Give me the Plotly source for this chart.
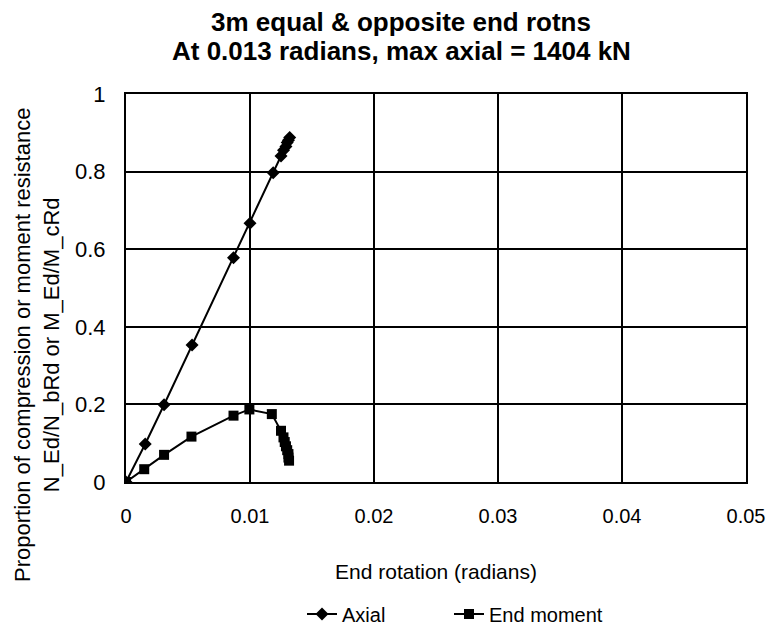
import plotly.graph_objects as go

axial_x = [0, 0.00155, 0.00307, 0.00533, 0.00867, 0.0100, 0.01187, 0.0125, 0.0127, 0.0129, 0.0130, 0.0131, 0.0132]
axial_y = [0, 0.098, 0.199, 0.353, 0.578, 0.667, 0.797, 0.840, 0.855, 0.865, 0.875, 0.881, 0.888]

moment_x = [0, 0.00147, 0.00307, 0.00528, 0.00867, 0.00995, 0.01176, 0.0125, 0.0127, 0.0128, 0.0129, 0.0130, 0.0131, 0.0131, 0.01315]
moment_y = [0, 0.033, 0.070, 0.117, 0.171, 0.187, 0.175, 0.132, 0.115, 0.103, 0.092, 0.082, 0.072, 0.063, 0.055]

x_ticks = [0, 0.01, 0.02, 0.03, 0.04, 0.05]
x_labels = ["0", "0.01", "0.02", "0.03", "0.04", "0.05"]
y_ticks = [0, 0.2, 0.4, 0.6, 0.8, 1]
y_labels = ["0", "0.2", "0.4", "0.6", "0.8", "1"]

title_lines = ["3m equal & opposite end rotns", "At 0.013 radians, max axial = 1404 kN"]
y_title = "Proportion of compression or moment resistance<br>N_Ed/N_bRd or M_Ed/M_cRd"
x_title = "End rotation (radians)"

font = "Liberation Sans, Arial, sans-serif"

# the page body adds an 8px margin; work in page pixels and convert
OFF = 8
W, H = 774 - OFF, 633 - 2 * OFF
L, R, T, B = 126 - OFF, 746 - OFF, 94 - OFF, 482 - OFF


def px_x(p):
    return (p - OFF - L) / (R - L)


def px_y(p):
    return (B - (p - OFF)) / (B - T)


fig = go.Figure()
fig.add_trace(go.Scatter(x=axial_x, y=axial_y, name="Axial", mode="lines+markers",
                         line=dict(color="black", width=2),
                         marker=dict(symbol="diamond", size=10, color="black"),
                         legend="legend"))
fig.add_trace(go.Scatter(x=moment_x, y=moment_y, name="End moment", mode="lines+markers",
                         line=dict(color="black", width=2),
                         marker=dict(symbol="square", size=10, color="black"),
                         legend="legend2"))

for line, ypx in zip(title_lines, [22, 51]):
    fig.add_annotation(text="<b>%s</b>" % line, xref="paper", yref="paper",
                       x=px_x(401), y=px_y(ypx),
                       xanchor="center", yanchor="middle", showarrow=False,
                       font=dict(size=26, family=font, color="black"))

fig.add_annotation(text=y_title, xref="paper", yref="paper",
                   x=px_x(37), y=px_y(345), xanchor="center", yanchor="middle",
                   textangle=-90, showarrow=False,
                   font=dict(size=22, family=font, color="black"))

leg_common = dict(orientation="h", xanchor="left", yanchor="middle",
                  font=dict(size=20, family=font), borderwidth=0, bgcolor="rgba(0,0,0,0)")
fig.update_layout(
    width=W, height=H,
    margin=dict(l=L, r=W - R, t=T, b=H - B, autoexpand=False),
    paper_bgcolor="white", plot_bgcolor="white",
    font=dict(family=font, color="black", size=20),
    showlegend=True,
    legend=dict(x=px_x(302), y=px_y(614), **leg_common),
    legend2=dict(x=px_x(449), y=px_y(614), **leg_common),
    xaxis=dict(range=[0, 0.05], tickvals=x_ticks, ticktext=x_labels,
               showgrid=True, gridcolor="black", gridwidth=2,
               showline=True, linecolor="black", linewidth=2, mirror=True,
               zeroline=False, tickfont=dict(size=20), ticklabelstandoff=15,
               ticklabeloverflow="allow", automargin=False,
               title=dict(text=x_title, standoff=38, font=dict(size=21))),
    yaxis=dict(range=[0, 1], tickvals=y_ticks, ticktext=y_labels,
               showgrid=True, gridcolor="black", gridwidth=2,
               showline=True, linecolor="black", linewidth=2, mirror=True,
               zeroline=False, tickfont=dict(size=22), ticklabelstandoff=14,
               automargin=False),
)

fig.write_html("out.html")
